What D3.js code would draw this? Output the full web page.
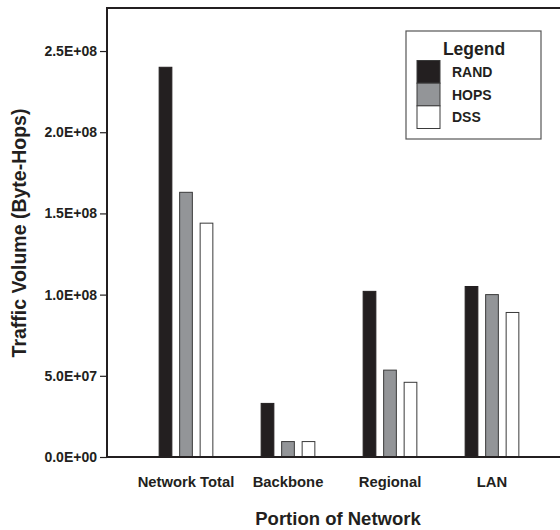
<!DOCTYPE html>
<html>
<head>
<meta charset="utf-8">
<script src="https://cdn.jsdelivr.net/npm/d3@7"></script>
<style>
  html, body { margin: 0; padding: 0; background: #fff; }
  svg { display: block; }
  text { font-family: "Liberation Sans", Arial, Helvetica, sans-serif; font-weight: bold; fill: #231f20; }
</style>
</head>
<body>
<script>
const categories = ["Network Total", "Backbone", "Regional", "LAN"];
const seriesNames = ["RAND", "HOPS", "DSS"];
const randValues = [2.40e8, 0.33e8, 1.02e8, 1.05e8];
const hopsValues = [1.63e8, 0.095e8, 0.535e8, 1.00e8];
const dssValues  = [1.44e8, 0.095e8, 0.46e8, 0.89e8];
const yTickValues = [0, 5e7, 1e8, 1.5e8, 2e8, 2.5e8];
const yTickLabels = ["0.0E+00", "5.0E+07", "1.0E+08", "1.5E+08", "2.0E+08", "2.5E+08"];
const seriesColors = ["#231f20", "#939598", "#ffffff"];

const W = 560, H = 530;
const mLeft = 107, mTop = 8, mBottom = 457, mRight = 560;

const svg = d3.select("body").append("svg").attr("width", W).attr("height", H);

const y = d3.scaleLinear().domain([0, 2.765e8]).range([mBottom, mTop]);
const x0 = d3.scaleBand().domain(categories).range([135, 543]).paddingInner(0).paddingOuter(0);
const x1 = d3.scaleBand().domain(seriesNames).range([-26.85, 26.85]).paddingInner(0.38).paddingOuter(0);

const seriesData = [randValues, hopsValues, dssValues];
const rows = [];
categories.forEach((c, i) => {
  seriesNames.forEach((s, j) => rows.push({ cat: c, series: s, value: seriesData[j][i], color: seriesColors[j] }));
});

// bars
svg.append("g").selectAll("rect").data(rows).join("rect")
  .attr("x", d => x0(d.cat) + x0.bandwidth() / 2 + x1(d.series))
  .attr("y", d => y(d.value))
  .attr("width", x1.bandwidth())
  .attr("height", d => mBottom - y(d.value))
  .attr("fill", d => d.color)
  .attr("stroke", d => d.series === "RAND" ? "#231f20" : "#3a3a3a")
  .attr("stroke-width", 1);

// frame (top + left + bottom)
svg.append("path")
  .attr("d", `M${mRight},${mTop}H${mLeft}V${mBottom}H${mRight}`)
  .attr("fill", "none").attr("stroke", "#231f20").attr("stroke-width", 2);

// y axis
const yAxis = d3.axisLeft(y).tickValues(yTickValues)
  .tickFormat((d, i) => yTickLabels[i]).tickSize(7).tickPadding(3);
const gy = svg.append("g").attr("transform", `translate(${mLeft},0)`).call(yAxis);
gy.select(".domain").remove();
gy.selectAll(".tick line").attr("stroke", "#231f20").attr("stroke-width", 1.2);
gy.selectAll(".tick text").attr("font-size", 14).attr("fill", "#231f20")
  .style("font-family", "'Liberation Sans', Arial, sans-serif").style("font-weight", "bold");

// x axis labels
const xAxis = d3.axisBottom(x0).tickSize(0).tickPadding(0);
const gx = svg.append("g").attr("transform", `translate(0,${mBottom})`).call(xAxis);
gx.select(".domain").remove();
gx.selectAll(".tick text").attr("font-size", 14.8).attr("dy", null).attr("y", 30).attr("fill", "#231f20")
  .style("font-family", "'Liberation Sans', Arial, sans-serif").style("font-weight", "bold");

// axis titles
svg.append("text").attr("x", 338).attr("y", 525)
  .attr("text-anchor", "middle").attr("font-size", 18.5).text("Portion of Network");
svg.append("text").attr("transform", `translate(26,233) rotate(-90)`)
  .attr("text-anchor", "middle").attr("font-size", 19.5).text("Traffic Volume (Byte-Hops)");

// legend
const lg = svg.append("g");
lg.append("rect").attr("x", 406).attr("y", 31).attr("width", 135).attr("height", 108)
  .attr("fill", "#fff").attr("stroke", "#555").attr("stroke-width", 1.2);
lg.append("text").attr("x", 474).attr("y", 54.5).attr("text-anchor", "middle")
  .attr("font-size", 17.5).text("Legend");
const sw = d3.scaleBand().domain(seriesNames).range([60.5, 128.5]);
lg.selectAll("rect.sw").data(seriesNames).join("rect").attr("class", "sw")
  .attr("x", 417).attr("y", d => sw(d)).attr("width", 23).attr("height", sw.bandwidth())
  .attr("fill", (d, i) => seriesColors[i]).attr("stroke", "#3a3a3a").attr("stroke-width", 1);
lg.selectAll("text.lb").data(seriesNames).join("text").attr("class", "lb")
  .attr("x", 452).attr("y", d => sw(d) + sw.bandwidth() / 2 + 5)
  .attr("font-size", 14).text(d => d);
</script>
</body>
</html>
